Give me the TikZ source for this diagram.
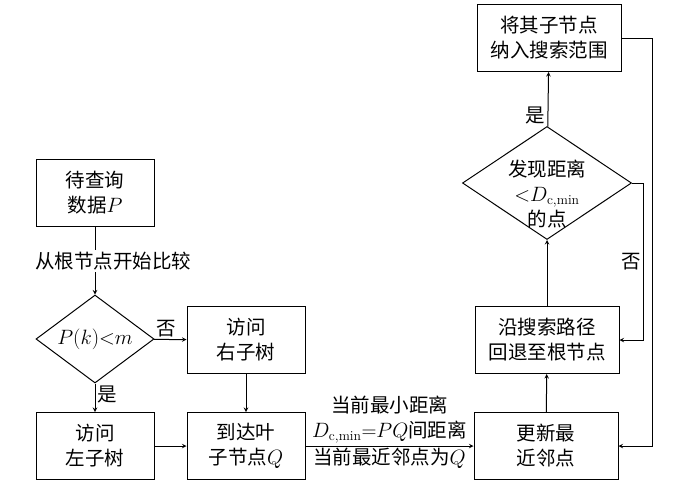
\documentclass[tikz,border=0pt]{standalone}
\usepackage{fontspec}
\usepackage{amsmath}
\newfontfamily\cjk{Noto Sans CJK SC}
\usetikzlibrary{arrows,shapes.geometric}

\begin{document}
\begin{tikzpicture}
  [x=1pt,y=-1pt,every node/.style={draw,align=center,line width=1pt,
   font=\cjk\fontsize{19.5}{25}\selectfont}]

  \tikzstyle{box} = [rectangle, minimum width=118pt, minimum height=67pt, inner sep=2pt]
  \tikzstyle{bigbox} = [box, minimum width=144pt]
  \tikzstyle{choice} = [diamond, inner sep=0pt, shape aspect=1.4]
  \tikzstyle{lbl} = [draw=none, inner sep=2pt]

  \useasboundingbox (0,0) rectangle (674,499);

  \node[box]    (1) at (95,193)  {待查询\\数据$P$};
  \node[choice, minimum width=118pt, minimum height=88pt] (2) at (95,339) {$P(k){<}m$};
  \node[box]    (3) at (246,340) {访问\\右子树};
  \node[box]    (4) at (95,446)  {访问\\左子树};
  \node[box]    (5) at (246,446) {到达叶\\子节点$Q$};
  \node[bigbox] (6) at (546,446) {更新最\\近邻点};
  \node[bigbox] (7) at (547,340) {沿搜索路径\\回退至根节点};
  \node[choice, shape aspect=1.5, inner sep=-11pt, text height=88pt,
        minimum width=169pt, minimum height=113pt]
        (8) at (547,183) {发现距离\\${<}D_{\mathrm{c,min}}$\\的点};
  \node[bigbox] (9) at (549,38)  {将其子节点\\纳入搜索范围};

  \coordinate (c1) at (643,183);
  \coordinate (c2) at (652,38);

  \path[->, >=stealth, line width=1pt]
        (1) edge node[lbl, fill=white, xshift=18pt] {从根节点开始比较} (2)
        (2) edge node[lbl, above, xshift=-4pt] {否} (3)
        (2) edge node[lbl, right, pos=0.4] {是} (4)
        (3) edge (5)
        (4) edge (5)
        (5) edge node[lbl, above] {当前最小距离\\$D_{\mathrm{c,min}}{=}PQ$间距离}
                 node[lbl, below] {当前最近邻点为$Q$} (6)
        (6) edge (7)
        (7) edge (8)
        (8) edge node[lbl, left, pos=0.2] {是} (9);

  \draw[->, >=stealth, line width=1pt] (8.east) -- (c1) |- node[lbl, left, pos=0.25] {否} (7.east);
  \draw[->, >=stealth, line width=1pt] (9.east) -- (c2) |- (6.east);
\end{tikzpicture}
\end{document}
